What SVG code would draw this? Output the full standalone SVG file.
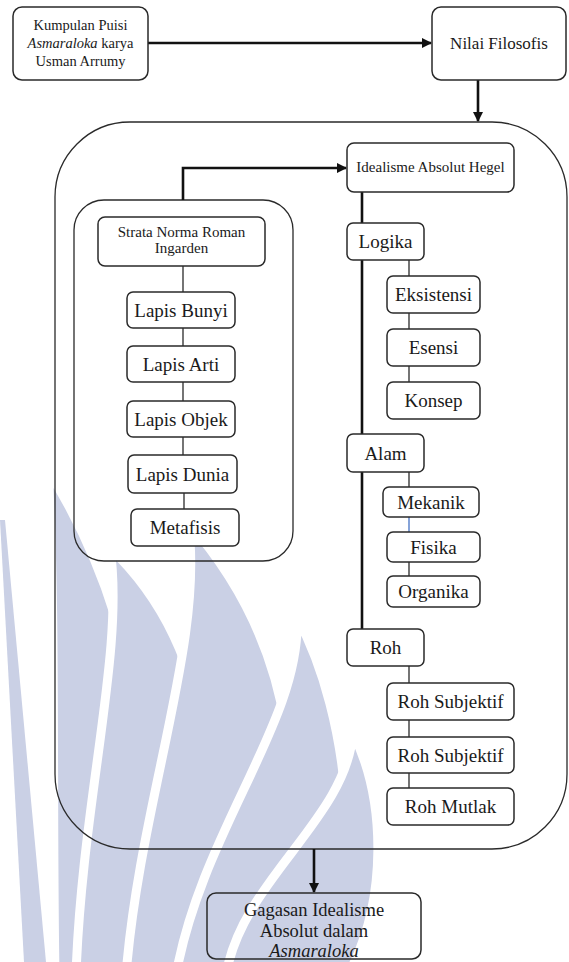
<svg xmlns="http://www.w3.org/2000/svg" width="569" height="962" viewBox="0 0 569 962">
<style>
.bx{fill:#ffffff;stroke:#2a2a2a;stroke-width:1.5}
.bxo{fill:none;stroke:#2a2a2a;stroke-width:1.5}
.ct{fill:none;stroke:#2a2a2a;stroke-width:1.3}
text{font-family:'Liberation Serif','Times New Roman',serif;fill:#1a1a1a;text-anchor:middle}
.s14{font-size:14.5px}
.s15{font-size:15px}
.s17{font-size:17px}
.big{font-size:19px}
.gag{font-size:18.5px}
.thin{stroke:#2a2a2a;stroke-width:1.3;fill:none}
.thick{stroke:#111;stroke-width:2.6;fill:none}
.wm{fill:#cad0e5;stroke:#ffffff;stroke-width:9;stroke-linejoin:round}
</style>
<defs>
<marker id="ah" viewBox="0 0 10 10" refX="9" refY="5" markerWidth="4" markerHeight="4" orient="auto" markerUnits="strokeWidth">
<path d="M0,0 L10,5 L0,10 Z" fill="#111"/>
</marker>
</defs>
<rect width="569" height="962" fill="#ffffff"/>
<g id="watermark">
<path fill="#cad0e5" d="M0,520 L5,520 L46,962 L24,962 Z"/>
<path class="wm" d="M48,470 C56,600 52,800 55,975 L130,975 C150,820 160,650 48,470 Z"/>
<path class="wm" d="M110,548 C125,650 82,800 76,975 L175,975 C232,820 218,650 110,548 Z"/>
<path class="wm" d="M188,522 C205,640 140,800 126,975 L255,975 C322,800 292,640 188,522 Z"/>
<path class="wm" d="M297,617 C302,720 202,830 176,975 L325,975 C362,880 352,720 297,617 Z"/>
<path class="wm" d="M353,733 C346,820 242,880 226,975 L348,975 C388,900 386,800 353,733 Z"/>
</g>
<g id="containers">
<rect class="ct" x="55" y="122" width="512" height="727" rx="75"/>
<rect class="ct" x="74" y="200" width="219" height="361" rx="30"/>
</g>
<g id="connectors">
<line class="thick" x1="148" y1="43" x2="431" y2="43" marker-end="url(#ah)"/>
<line class="thick" x1="478" y1="80" x2="478" y2="121" marker-end="url(#ah)"/>
<polyline class="thick" points="183,200 183,168 346,168" marker-end="url(#ah)"/>
<line class="thick" x1="362" y1="192" x2="362" y2="629"/>
<line class="thick" x1="314" y1="849" x2="314" y2="892" marker-end="url(#ah)"/>
<line class="thin" x1="183" y1="266" x2="183" y2="292"/>
<line class="thin" x1="183" y1="328" x2="183" y2="346"/>
<line class="thin" x1="183" y1="382" x2="183" y2="401"/>
<line class="thin" x1="183" y1="437" x2="183" y2="455"/>
<line class="thin" x1="184" y1="493" x2="184" y2="509"/>
<line class="thin" x1="409" y1="260" x2="409" y2="276"/>
<line class="thin" x1="409" y1="313" x2="409" y2="329"/>
<line class="thin" x1="409" y1="366" x2="409" y2="382"/>
<line class="thin" x1="409" y1="472" x2="409" y2="487"/>
<line x1="409" y1="517" x2="409" y2="532" stroke="#4472c4" stroke-width="1.3"/>
<line class="thin" x1="409" y1="562" x2="409" y2="576"/>
<line class="thin" x1="409" y1="666" x2="409" y2="683"/>
<line class="thin" x1="409" y1="720" x2="409" y2="737"/>
<line class="thin" x1="409" y1="773" x2="409" y2="788"/>
</g>
<g id="n-kumpulan">
<rect class="bx" x="13" y="7" width="135" height="73" rx="9"/>
<text class="s14" x="80.5" y="29.5">Kumpulan Puisi</text>
<text class="s14" x="80.5" y="47.5"><tspan font-style="italic">Asmaraloka</tspan> karya</text>
<text class="s14" x="80.5" y="66">Usman Arrumy</text>
</g>
<g id="n-nilai">
<rect class="bx" x="432" y="7" width="134" height="73" rx="9"/>
<text class="s17" x="499" y="48.5">Nilai Filosofis</text>
</g>
<g id="n-idealisme">
<rect class="bx" x="347" y="143" width="167" height="49" rx="7"/>
<text class="s15" x="430.5" y="172">Idealisme Absolut Hegel</text>
</g>
<g id="n-strata">
<rect class="bx" x="98" y="217" width="167" height="49" rx="7"/>
<text class="s15" x="181.5" y="237">Strata Norma Roman</text>
<text class="s15" x="181.5" y="253">Ingarden</text>
</g>
<g id="n-bunyi"><rect class="bx" x="127" y="292" width="108" height="36" rx="6"/><text class="big" x="181" y="316.5">Lapis Bunyi</text></g>
<g id="n-arti"><rect class="bx" x="127" y="346" width="108" height="36" rx="6"/><text class="big" x="181" y="370.5">Lapis Arti</text></g>
<g id="n-objek"><rect class="bx" x="127" y="401" width="108" height="36" rx="6"/><text class="big" x="181" y="425.5">Lapis Objek</text></g>
<g id="n-dunia"><rect class="bx" x="128" y="455" width="109" height="38" rx="6"/><text class="big" x="182.5" y="480.5">Lapis Dunia</text></g>
<g id="n-metafisis"><rect class="bx" x="131" y="509" width="108" height="37" rx="6"/><text class="big" x="185" y="534">Metafisis</text></g>
<g id="n-logika"><rect class="bx" x="347" y="223" width="77" height="37" rx="6"/><text class="big" x="385.5" y="248">Logika</text></g>
<g id="n-eksistensi"><rect class="bx" x="387" y="276" width="93" height="37" rx="6"/><text class="big" x="433.5" y="301">Eksistensi</text></g>
<g id="n-esensi"><rect class="bx" x="387" y="329" width="93" height="37" rx="6"/><text class="big" x="433.5" y="354">Esensi</text></g>
<g id="n-konsep"><rect class="bx" x="387" y="382" width="93" height="37" rx="6"/><text class="big" x="433.5" y="407">Konsep</text></g>
<g id="n-alam"><rect class="bx" x="347" y="434" width="77" height="38" rx="6"/><text class="big" x="385.5" y="459.5">Alam</text></g>
<g id="n-mekanik"><rect class="bx" x="383" y="487" width="96" height="30" rx="6"/><text class="big" x="431" y="508.5">Mekanik</text></g>
<g id="n-fisika"><rect class="bx" x="387" y="532" width="93" height="30" rx="6"/><text class="big" x="433.5" y="553.5">Fisika</text></g>
<g id="n-organika"><rect class="bx" x="387" y="576" width="93" height="31" rx="6"/><text class="big" x="433.5" y="597.5">Organika</text></g>
<g id="n-roh"><rect class="bx" x="347" y="629" width="77" height="37" rx="6"/><text class="big" x="385.5" y="654">Roh</text></g>
<g id="n-rohsub1"><rect class="bx" x="387" y="683" width="127" height="37" rx="6"/><text class="big" x="450.5" y="708">Roh Subjektif</text></g>
<g id="n-rohsub2"><rect class="bx" x="387" y="737" width="127" height="36" rx="6"/><text class="big" x="450.5" y="761.5">Roh Subjektif</text></g>
<g id="n-rohmutlak"><rect class="bx" x="387" y="788" width="127" height="37" rx="6"/><text class="big" x="450.5" y="813">Roh Mutlak</text></g>
<g id="n-gagasan">
<rect class="bxo" x="207" y="893" width="214" height="66" rx="9"/>
<text class="gag" x="314" y="915.5">Gagasan Idealisme</text>
<text class="gag" x="314" y="936.5">Absolut dalam</text>
<text class="gag" x="314" y="956.5" font-style="italic">Asmaraloka</text>
</g>
</svg>
